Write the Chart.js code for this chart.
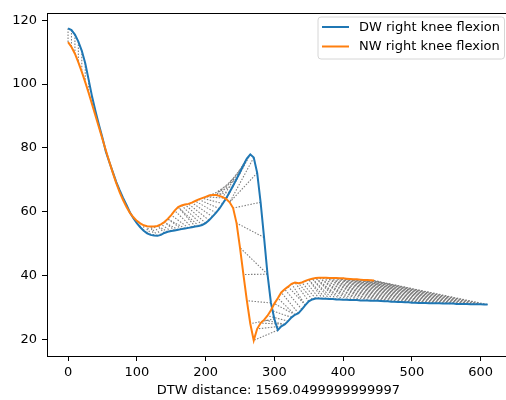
<!DOCTYPE html>
<html>
<head>
<meta charset="utf-8">
<script src="https://cdn.jsdelivr.net/npm/chart.js@4.4.1/dist/chart.umd.min.js"></script>
<style>
  html, body { margin: 0; padding: 0; background: #fff; overflow: hidden; }
  #wrap { width: 506px; height: 400px; overflow: hidden; }
</style>
</head>
<body>
<div id="wrap"><canvas id="dtwChart" width="512" height="400"></canvas></div>
<script>
// frames between two samples of the arrays below
const STEP = 5;

// DW right knee flexion, frames 0..610
const dwValues = [
  117.4, 116.9, 115.5, 113.3, 110.4, 106.5, 101.3, 96.0, 91.4, 87.2,
  83.2, 78.8, 75.6, 72.5, 69.4, 66.8, 64.4, 62.2, 59.8, 58.0,
  56.5, 55.2, 54.1, 53.3, 52.8, 52.6, 52.5, 52.8, 53.4, 53.8,
  54.0, 54.2, 54.4, 54.6, 54.8, 55.0, 55.2, 55.4, 55.6, 55.9,
  56.5, 57.4, 58.5, 59.7, 61.0, 62.6, 64.3, 66.2, 68.2, 70.3,
  72.4, 74.6, 76.7, 78.0, 77.0, 72.2, 63.0, 52.0, 40.5, 31.5,
  26.5, 23.0, 24.2, 24.8, 25.8, 27.0, 27.8, 28.3, 29.5, 30.8,
  32.0, 32.6, 32.9, 32.9, 32.8, 32.8, 32.7, 32.7, 32.6, 32.6,
  32.5, 32.5, 32.4, 32.4, 32.4, 32.3, 32.3, 32.3, 32.2, 32.2,
  32.2, 32.1, 32.0, 32.0, 31.9, 31.9, 31.8, 31.8, 31.7, 31.7,
  31.6, 31.6, 31.5, 31.5, 31.5, 31.4, 31.4, 31.4, 31.4, 31.3,
  31.3, 31.3, 31.3, 31.2, 31.2, 31.2, 31.2, 31.1, 31.1, 31.1,
  31.1, 31.0, 31.0
];

// NW right knee flexion, frames 0..445
const nwValues = [
  113.1, 111.6, 109.5, 106.8, 103.8, 100.6, 97.2, 93.6, 90.0, 86.4,
  82.8, 79.2, 75.7, 72.3, 69.1, 66.2, 63.7, 61.5, 59.7, 58.3,
  57.2, 56.4, 55.8, 55.5, 55.4, 55.4, 55.6, 56.1, 56.8, 57.8,
  59.0, 60.4, 61.5, 62.0, 62.3, 62.5, 62.9, 63.4, 63.9, 64.3,
  64.7, 65.1, 65.3, 65.3, 65.0, 64.6, 64.0, 63.0, 61.2, 56.5,
  48.8, 40.4, 32.2, 25.0, 19.8, 23.4, 25.2, 26.2, 27.5, 29.2,
  31.3, 33.0, 34.8, 35.8, 36.6, 37.5, 37.9, 37.7, 37.9, 38.4,
  38.8, 39.1, 39.3, 39.4, 39.4, 39.4, 39.3, 39.3, 39.3, 39.2,
  39.2, 39.1, 39.0, 38.9, 38.9, 38.8, 38.7, 38.7, 38.6, 38.5
];

// warping path: [DW sample, NW sample] turning points
const warpAnchors = [
  [0, 0], [22, 22], [26, 24], [30, 27], [35, 30], [40, 34], [44, 38],
  [48, 41], [53, 46], [55, 47], [56, 48], [60, 53], [61, 54], [64, 58],
  [68, 63], [70, 66], [74, 70], [90, 76], [110, 84], [121, 89], [122, 89]
];

const seriesLabels = ['DW right knee flexion', 'NW right knee flexion'];
const seriesColors = ['#1f77b4', '#ff7f0e'];
const xTicks = [0, 100, 200, 300, 400, 500, 600];
const yTicks = [20, 40, 60, 80, 100, 120];
const xLimits = [-30.6, 642.6];
const yLimits = [14.9, 122.3];
const distanceText = 'DTW distance: 1569.0499999999997';

const FONT = { family: 'DejaVu Sans', size: 13 };

// walk the path between turning points one sample at a time
function buildPath(anchors) {
  const path = [anchors[0]];
  for (let a = 1; a < anchors.length; a++) {
    const [i0, j0] = anchors[a - 1], [i1, j1] = anchors[a];
    const steps = Math.max(i1 - i0, j1 - j0);
    for (let k = 1; k <= steps; k++) {
      path.push([i0 + Math.round(k * (i1 - i0) / steps), j0 + Math.round(k * (j1 - j0) / steps)]);
    }
  }
  return path;
}

const toPoints = vals => vals.map((v, i) => ({ x: i * STEP, y: v }));

const warpLinks = [];
buildPath(warpAnchors).forEach(([i, j]) => {
  warpLinks.push({ x: i * STEP, y: dwValues[i] });
  warpLinks.push({ x: j * STEP, y: nwValues[j] });
  warpLinks.push({ x: j * STEP, y: null });
});

// spines on all four sides + the legend box in the upper right
const framePlugin = {
  id: 'frame',
  afterDraw(chart) {
    const { ctx, chartArea: ca } = chart;
    ctx.save();
    ctx.strokeStyle = '#000';
    ctx.lineWidth = 1;
    ctx.strokeRect(Math.round(ca.left) + 0.5, Math.round(ca.top) + 0.5,
      Math.round(ca.right - ca.left), Math.round(ca.bottom - ca.top));

    // legend
    const bx = 318, by = 17, bw = 186.5, bh = 42, r = 3;
    ctx.beginPath();
    ctx.moveTo(bx + r, by);
    ctx.arcTo(bx + bw, by, bx + bw, by + bh, r);
    ctx.arcTo(bx + bw, by + bh, bx, by + bh, r);
    ctx.arcTo(bx, by + bh, bx, by, r);
    ctx.arcTo(bx, by, bx + bw, by, r);
    ctx.closePath();
    ctx.fillStyle = 'rgba(255,255,255,0.8)';
    ctx.fill();
    ctx.strokeStyle = '#d6d6d6';
    ctx.stroke();

    ctx.font = FONT.size + 'px "' + FONT.family + '"';
    ctx.textBaseline = 'middle';
    ctx.textAlign = 'left';
    seriesLabels.forEach((lab, k) => {
      const y = 27 + k * 19.5;
      ctx.strokeStyle = seriesColors[k];
      ctx.lineWidth = 2;
      ctx.beginPath();
      ctx.moveTo(322, y);
      ctx.lineTo(349, y);
      ctx.stroke();
      ctx.fillStyle = '#000';
      ctx.fillText(lab, 359, y + 0.5);
    });
    ctx.restore();
  }
};

new Chart(document.getElementById('dtwChart'), {
  type: 'line',
  data: {
    datasets: [
      {
        label: seriesLabels[1],
        data: toPoints(nwValues),
        borderColor: seriesColors[1],
        borderWidth: 2,
        pointRadius: 0,
        tension: 0,
        order: 0
      },
      {
        label: seriesLabels[0],
        data: toPoints(dwValues),
        borderColor: seriesColors[0],
        borderWidth: 2,
        pointRadius: 0,
        tension: 0,
        order: 1
      },
      {
        label: 'warping',
        data: warpLinks,
        borderColor: '#808080',
        borderWidth: 1.1,
        borderDash: [1.5, 1.5],
        pointRadius: 0,
        spanGaps: false,
        tension: 0,
        order: 2
      }
    ]
  },
  options: {
    responsive: false,
    animation: false,
    events: [],
    layout: { padding: { left: 0, top: 10, right: 2, bottom: 0 } },
    plugins: { legend: { display: false }, tooltip: { enabled: false } },
    scales: {
      x: {
        type: 'linear',
        min: xLimits[0],
        max: xLimits[1],
        afterBuildTicks: s => { s.ticks = xTicks.map(v => ({ value: v })); },
        afterFit: s => { s.height = 44; },
        grid: { drawOnChartArea: false, drawTicks: true, tickLength: 5, color: '#000' },
        border: { display: false },
        ticks: { color: '#000', font: FONT, padding: 4, maxRotation: 0, autoSkip: false },
        title: { display: true, text: distanceText, color: '#000', font: FONT, padding: { top: 0, bottom: 2 } }
      },
      y: {
        type: 'linear',
        min: yLimits[0],
        max: yLimits[1],
        afterBuildTicks: s => { s.ticks = yTicks.map(v => ({ value: v })); },
        afterFit: s => { s.width = 47; },
        grid: { drawOnChartArea: false, drawTicks: true, tickLength: 5, color: '#000' },
        border: { display: false },
        ticks: { color: '#000', font: FONT, padding: 5, autoSkip: false }
      }
    }
  },
  plugins: [framePlugin]
});
</script>
</body>
</html>
